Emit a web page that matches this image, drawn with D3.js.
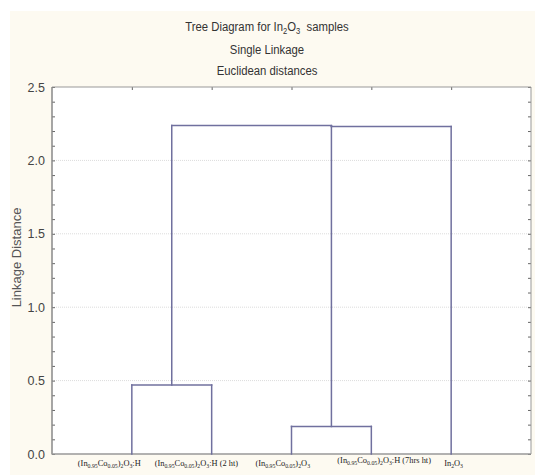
<!DOCTYPE html>
<html><head><meta charset="utf-8">
<script src="https://cdn.jsdelivr.net/npm/d3@7"></script>
<style>body{margin:0;background:#fff}svg{display:block}</style>
</head><body>
<svg id="c" width="535" height="475"></svg>
<script>
// ---- data ----
const leaves = ["A", "B", "C", "D", "E"];
// label text pieces: [text, isSub]
const leafLabels = [
  [["(In",0],["0.95",1],["Co",0],["0.05",1],[")",0],["2",1],["O",0],["3",1],[":H",0]],
  [["(In",0],["0.95",1],["Co",0],["0.05",1],[")",0],["2",1],["O",0],["3",1],[":H (2 ht)",0]],
  [["(In",0],["0.95",1],["Co",0],["0.05",1],[")",0],["2",1],["O",0],["3",1]],
  [["(In",0],["0.95",1],["Co",0],["0.05",1],[")",0],["2",1],["O",0],["3",1],[":H (7hrs ht)",0]],
  [["In",0],["2",1],["O",0],["3",1]]
];
// merges: [child1, child2, height]
const merges = [
  ["A", "B", 0.47],
  ["C", "D", 0.188],
  ["CD", "E", 2.231],
  ["AB", "CDE", 2.237]
];
const yTicks = [0.0, 0.5, 1.0, 1.5, 2.0, 2.5];
const titleParts = [["Tree Diagram for In",0],["2",1],["O",0],["3",1],["  samples",0]];
const titleLines = ["Single Linkage", "Euclidean distances"];
const yLabel = "Linkage Distance";

// ---- layout ----
const svg = d3.select("#c");
const L = 52, R = 531, T = 87, B = 454;
svg.append("rect").attr("x",10).attr("y",11).attr("width",525).attr("height",464).attr("fill","#fdfaf1");
svg.append("rect").attr("x",L).attr("y",T).attr("width",R-L).attr("height",B-T).attr("fill","#fff");

const x = d3.scaleLinear().domain([0, leaves.length + 1]).range([L, R]);
const y = d3.scaleLinear().domain([0, 2.5]).range([B, T]);

// grid
svg.append("g").selectAll("line").data(yTicks.filter(t => t > 0 && t < 2.5)).join("line")
  .attr("x1", L).attr("x2", R).attr("y1", d => y(d)).attr("y2", d => y(d))
  .attr("stroke", "#dcdcdc").attr("stroke-width", 1).attr("stroke-dasharray", "1,1");

// axes
const yAxisL = d3.axisLeft(y).tickValues(yTicks).tickFormat(d3.format(".1f")).tickSize(0).tickPadding(7);
const ga = svg.append("g").attr("transform", `translate(${L},0)`).call(yAxisL);
ga.select(".domain").remove();
ga.selectAll("text").attr("font-family", "Liberation Sans, Arial, sans-serif").attr("font-size", 12.5).attr("fill", "#444");

const minor = d3.range(0, 26).map(i => i / 10);
svg.append("g").attr("transform", `translate(${L},0)`).call(d3.axisRight(y).tickValues(minor).tickSize(3).tickFormat(""))
  .call(s => s.select(".domain").remove()).selectAll("line").attr("stroke", "#666");
svg.append("g").attr("transform", `translate(${R},0)`).call(d3.axisLeft(y).tickValues(minor).tickSize(3).tickFormat(""))
  .call(s => s.select(".domain").remove()).selectAll("line").attr("stroke", "#666");
svg.append("g").attr("transform", `translate(0,${T})`).call(d3.axisBottom(x).tickValues(d3.range(1, leaves.length + 1)).tickSize(3).tickFormat(""))
  .call(s => s.select(".domain").remove()).selectAll("line").attr("stroke", "#666");

// frame
svg.append("line").attr("x1",L).attr("x2",R).attr("y1",T).attr("y2",T).attr("stroke","#999").attr("stroke-width",1);
svg.append("line").attr("x1",R).attr("x2",R).attr("y1",T).attr("y2",B).attr("stroke","#999").attr("stroke-width",1);
svg.append("line").attr("x1",L).attr("x2",L).attr("y1",T).attr("y2",B+0.5).attr("stroke","#888").attr("stroke-width",1.5);
svg.append("line").attr("x1",L).attr("x2",R).attr("y1",B).attr("y2",B).attr("stroke","#999").attr("stroke-width",1.5);

// dendrogram
const nodes = {};
leaves.forEach((k, i) => nodes[k] = {x: x(i + 1), h: 0, leaf: true});
const segs = [];
merges.forEach(([a, b, h]) => {
  const na = nodes[a], nb = nodes[b];
  segs.push([na.x, na.h, na.x, h]);
  segs.push([nb.x, nb.h, nb.x, h]);
  segs.push([na.x, h, nb.x, h]);
  let nx;
  if (na.leaf === nb.leaf) nx = (na.x + nb.x) / 2;
  else nx = na.leaf ? nb.x : na.x;
  nodes[a + b] = {x: nx, h: h, leaf: false};
});
svg.append("g").selectAll("line").data(segs).join("line")
  .attr("x1", d => d[0]).attr("y1", d => y(d[1]))
  .attr("x2", d => d[2]).attr("y2", d => y(d[3]))
  .attr("stroke", "#70709e").attr("stroke-width", 1.5).attr("stroke-linecap", "square");

// rich text helper
function rich(t, parts, size, subSize, shift) {
  parts.forEach(([s, sub], j) => {
    const prev = j > 0 ? parts[j - 1][1] : 0;
    let dy = 0;
    if (sub && !prev) dy = shift;
    if (!sub && prev) dy = -shift;
    t.append("tspan").attr("font-size", sub ? subSize : size).attr("dy", dy).text(s);
  });
}

// leaf labels
const labDx = [-54, -57, -36, -34, -7];
const labDy = [0, 0, 0, -3, 0];
leafLabels.forEach((parts, i) => {
  const t = svg.append("text").attr("x", x(i + 1) + labDx[i]).attr("y", 466 + labDy[i])
    .attr("text-anchor", "start").attr("font-family", "Liberation Serif, Times New Roman, serif")
    .attr("fill", "#222").style("white-space", "pre");
  rich(t, parts, 8.4, 5.8, 2);
});

// titles (condensed look)
const tf = "Liberation Sans, Arial, sans-serif";
const t0 = svg.append("text").attr("transform", "translate(267,31) scale(0.84,1)").attr("text-anchor", "middle")
  .attr("font-family", tf).attr("fill", "#333").style("white-space", "pre");
rich(t0, titleParts, 13.5, 9, 3);
titleLines.forEach((s, i) => {
  svg.append("text").attr("transform", `translate(267,${54 + i * 21}) scale(0.84,1)`).attr("text-anchor", "middle")
    .attr("font-family", tf).attr("font-size", 13.5).attr("fill", "#333").text(s);
});

// y label
svg.append("text").attr("transform", `translate(21,${(T + B) / 2 - 13}) rotate(-90)`)
  .attr("text-anchor", "middle").attr("font-family", "Liberation Sans, Arial, sans-serif")
  .attr("font-size", 13).attr("fill", "#555").text(yLabel);
</script>
</body></html>
